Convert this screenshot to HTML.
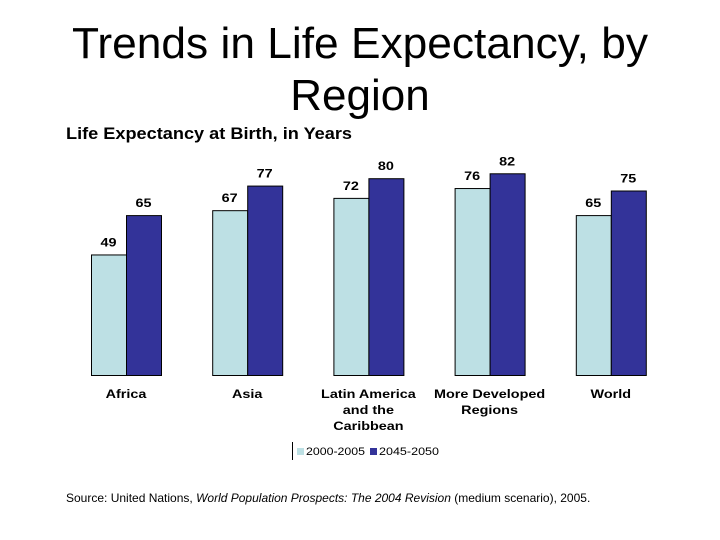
<!DOCTYPE html>
<html><head><meta charset="utf-8"><style>
body{margin:0;background:#fff;}
svg{display:block;font-family:"Liberation Sans",Arial,sans-serif;}
</style></head><body>
<svg width="720" height="540" viewBox="0 0 720 540">
<text x="360" y="58" font-size="44" text-anchor="middle" textLength="576" lengthAdjust="spacingAndGlyphs">Trends in Life Expectancy, by</text>
<text x="360" y="110" font-size="44" text-anchor="middle">Region</text>
<text x="66" y="139" font-size="17" font-weight="bold" textLength="286" lengthAdjust="spacingAndGlyphs">Life Expectancy at Birth, in Years</text>
<g id="bars"></g>
<g id="cats"></g>
<g>
<line x1="292.5" y1="442" x2="292.5" y2="460" stroke="#000" stroke-width="1"/>
<rect x="297" y="448" width="7" height="7" fill="#bde0e4"/>
<text x="306" y="455" font-size="11" textLength="59" lengthAdjust="spacingAndGlyphs">2000-2005</text>
<rect x="370" y="448" width="7" height="7" fill="#333399"/>
<text x="379" y="455" font-size="11" textLength="60" lengthAdjust="spacingAndGlyphs">2045-2050</text>
</g>
<text x="66" y="502" font-size="12">Source: United Nations, <tspan font-style="italic">World Population Prospects: The 2004 Revision</tspan> (medium scenario), 2005.</text>
</svg>
<script>
const categories = [["Africa"],["Asia"],["Latin America","and the","Caribbean"],["More Developed","Regions"],["World"]];
const series2000 = [49,67,72,76,65];
const series2045 = [65,77,80,82,75];
const NS="http://www.w3.org/2000/svg";
const baseY=375, scale=2.46, x0=91, step=121.2, bw=35;
function y(v){return baseY - v*scale;}
function gx(i){return x0 + i*step;}
const bars=document.getElementById('bars'), cats=document.getElementById('cats');
function mk(tag,attrs,parent){const e=document.createElementNS(NS,tag);for(const k in attrs)e.setAttribute(k,attrs[k]);parent.appendChild(e);return e;}
categories.forEach((c,i)=>{
  [[series2000,"#bde0e4",0,"2000"],[series2045,"#333399",1,"2045"]].forEach(([s,col,k,nm])=>{
    const v=s[i], bx=gx(i)+k*bw;
    const r=mk('rect',{x:bx+0.5,y:y(v)+0.5,width:bw,height:baseY-y(v),fill:col,stroke:'#000','stroke-width':1},bars);
    
    
    const t=mk('text',{x:bx+bw/2,y:y(v)-8,'font-size':12,'font-weight':'bold','text-anchor':'middle',transform:'translate('+(bx+bw/2)+',0) scale(1.2,1) translate('+(-(bx+bw/2))+',0)'},bars);
    t.textContent=v;
    
    
  });
  c.forEach((line,j)=>{
    const cx=gx(i)+bw;
    const t=mk('text',{x:cx,y:398+j*16,'font-size':12,'font-weight':'bold','text-anchor':'middle',transform:'translate('+cx+',0) scale(1.2,1) translate('+(-cx)+',0)'},cats);
    t.textContent=line;
    
    
  });
});
</script>
</body></html>
